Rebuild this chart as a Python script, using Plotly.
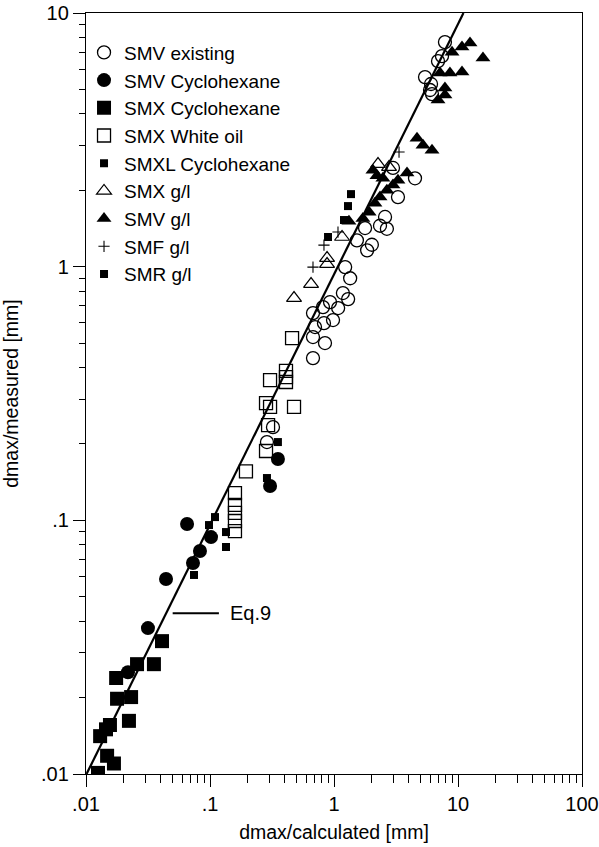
import math
import plotly.graph_objects as go

# ---------------- data (dmax/calculated [mm], dmax/measured [mm]) ----------------
smv_existing_x = [7.85, 7.43, 6.90, 5.42, 6.06, 5.95, 6.17, 2.99, 4.50, 3.28, 2.58, 2.35,
                  2.67, 1.78, 1.53, 2.02, 1.85, 1.23, 1.35, 1.18, 1.30, 1.08, 0.929, 0.815,
                  0.677, 0.982, 0.830, 0.703, 0.677, 0.846, 0.677, 0.322, 0.288]
smv_existing_y = [7.68, 6.76, 6.46, 5.59, 5.25, 4.97, 4.79, 2.45, 2.23, 1.88, 1.57, 1.45,
                  1.41, 1.42, 1.27, 1.22, 1.16, 0.996, 0.90, 0.787, 0.745, 0.687, 0.725, 0.693,
                  0.656, 0.616, 0.599, 0.578, 0.528, 0.500, 0.436, 0.233, 0.2035]

smv_cyclo_x = [0.0218, 0.0316, 0.0442, 0.0729, 0.0830, 0.1019, 0.0653, 0.353, 0.305]
smv_cyclo_y = [0.0252, 0.0376, 0.0587, 0.0679, 0.0757, 0.0859, 0.0967, 0.1745, 0.1365]

smx_cyclo_x = [0.0125, 0.0130, 0.0145, 0.0156, 0.0148, 0.0168, 0.0222, 0.0178, 0.0231,
               0.0175, 0.0258, 0.0353, 0.0410]
smx_cyclo_y = [0.0101, 0.0141, 0.0150, 0.0156, 0.0118, 0.0110, 0.0162, 0.0198, 0.0201,
               0.0239, 0.0271, 0.0271, 0.0334]

smx_white_x = [0.159, 0.159, 0.159, 0.159, 0.159, 0.195, 0.283, 0.294, 0.283, 0.305,
               0.305, 0.410, 0.410, 0.410, 0.476, 0.459]
smx_white_y = [0.128, 0.115, 0.107, 0.0994, 0.0907, 0.156, 0.1876, 0.2375, 0.290, 0.280,
               0.357, 0.388, 0.351, 0.367, 0.280, 0.523]

smxl_cyclo_x = [0.1097, 0.0982, 0.1346, 0.1346, 0.0743, 0.353, 0.288]
smxl_cyclo_y = [0.103, 0.0958, 0.0899, 0.0785, 0.0609, 0.2035, 0.1468]

smx_gl_x = [0.476, 0.653, 0.879, 0.879, 1.161, 2.264, 2.778]
smx_gl_y = [0.752, 0.854, 1.081, 1.024, 1.309, 2.538, 2.47]

smv_gl_x = [8.95, 10.77, 12.5, 15.9, 7.16, 8.61, 10.77, 7.85, 7.85, 6.90, 4.67, 5.22, 6.17,
            1.32, 1.71, 1.92, 2.14, 2.35, 2.67, 2.99, 3.28, 3.88, 2.06, 2.22, 2.48]
smv_gl_y = [7.01, 7.34, 7.61, 6.64, 5.80, 5.80, 5.85, 5.06, 4.75, 4.54, 3.21, 3.01, 2.88,
            1.51, 1.55, 1.64, 1.78, 1.88, 2.00, 2.10, 2.19, 2.34, 2.40, 2.28, 2.23]

smf_gl_x = [0.677, 0.830, 1.077, 3.345]
smf_gl_y = [0.996, 1.216, 1.369, 2.83]

smr_gl_x = [1.371, 1.297, 1.204, 0.895]
smr_gl_y = [1.932, 1.733, 1.527, 1.309]

eq9_x = [0.0101, 11.07]
eq9_y = [0.01, 10.0]

eq9_label_x = [0.050, 0.118]
eq9_label_y = [0.043, 0.043]
eq9_text_x = 0.1396

x_tickvals = [0.01, 0.1, 1, 10, 100]
x_ticktext = [".01", ".1", "1", "10", "100"]
y_tickvals = [0.01, 0.1, 1, 10]
y_ticktext = [".01", ".1", "1", "10"]

FONT = "Liberation Sans, Arial, Helvetica, sans-serif"

fig = go.Figure()

fig.add_trace(go.Scatter(x=eq9_x, y=eq9_y, mode="lines", line=dict(color="black", width=2.2),
                         showlegend=False, hoverinfo="skip"))
fig.add_trace(go.Scatter(x=eq9_label_x, y=eq9_label_y, mode="lines",
                         line=dict(color="black", width=2), showlegend=False, hoverinfo="skip"))

def add(name, x, y, symbol, size, lw=0):
    fig.add_trace(go.Scatter(
        x=x, y=y, mode="markers", name=name,
        marker=dict(symbol=symbol, size=size, color="black",
                    line=dict(color="black", width=lw)),
    ))

add("SMV existing", smv_existing_x, smv_existing_y, "circle-open", 13, 1.3)
add("SMV Cyclohexane", smv_cyclo_x, smv_cyclo_y, "circle", 14)
add("SMX Cyclohexane", smx_cyclo_x, smx_cyclo_y, "square", 14)
add("SMX White oil", smx_white_x, smx_white_y, "square-open", 13, 1.3)
add("SMXL Cyclohexane", smxl_cyclo_x, smxl_cyclo_y, "square", 8)
add("SMX g/l", smx_gl_x, smx_gl_y, "triangle-up-open", 13, 1.2)
add("SMV g/l", smv_gl_x, smv_gl_y, "triangle-up", 13)
add("SMF g/l", smf_gl_x, smf_gl_y, "cross-thin-open", 8, 1.1)
add("SMR g/l", smr_gl_x, smr_gl_y, "square", 8)

fig.add_annotation(x=math.log10(eq9_text_x), y=math.log10(eq9_label_y[0]), xref="x", yref="y",
                   text="Eq.9", showarrow=False, xanchor="left", yanchor="middle",
                   font=dict(family=FONT, size=20, color="black"))

def minor_vals(lo, hi):
    vals = []
    d = lo
    while d < hi * 0.999:
        for k in range(2, 10):
            vals.append(k * d)
        d *= 10
    return vals

axis_common = dict(
    type="log", showgrid=False, zeroline=False, showline=True, linecolor="black",
    linewidth=1.3, mirror=True, ticks="outside", ticklen=12, tickwidth=1.3,
    tickcolor="black", tickfont=dict(family=FONT, size=20, color="black"),
    automargin=False,
)

fig.update_xaxes(
    **axis_common, range=[-2, 2], tickvals=x_tickvals, ticktext=x_ticktext,
    minor=dict(tickvals=minor_vals(0.01, 100), ticks="outside", ticklen=8,
               tickwidth=1.2, tickcolor="black"),
    title=dict(text="dmax/calculated [mm]", font=dict(family=FONT, size=19.5, color="black"),
               standoff=11),
)
fig.update_yaxes(
    **axis_common, range=[-2, 1], tickvals=y_tickvals, ticktext=y_ticktext,
    minor=dict(tickvals=minor_vals(0.01, 10), ticks="outside", ticklen=6,
               tickwidth=1.2, tickcolor="black"),
    title=dict(text="dmax/measured [mm]", font=dict(family=FONT, size=19.5, color="black"),
               standoff=17),
)

fig.update_layout(
    width=599, height=847,
    margin=dict(l=86, r=17, t=13, b=73),
    paper_bgcolor="white", plot_bgcolor="white",
    font=dict(family=FONT, color="black"),
    legend=dict(x=-0.004, y=0.973, xanchor="left", yanchor="top",
                bgcolor="rgba(0,0,0,0)", borderwidth=0,
                font=dict(family=FONT, size=19, color="black")),
)

fig.write_html("out.html")
